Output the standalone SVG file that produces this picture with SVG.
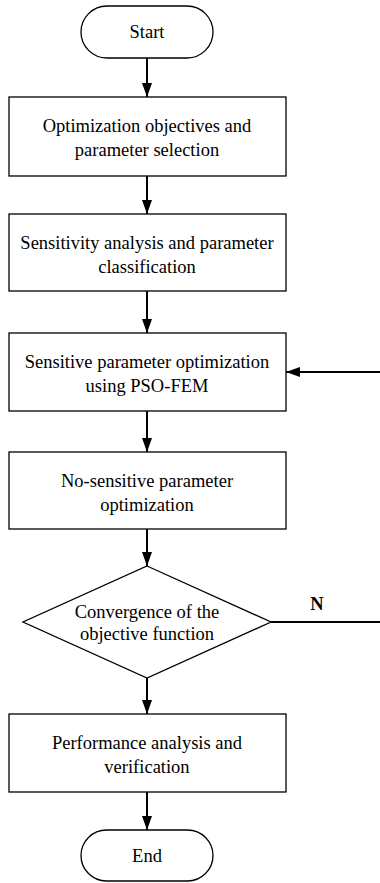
<svg xmlns="http://www.w3.org/2000/svg" width="380" height="883" viewBox="0 0 380 883">
  <style>
    .shape { fill: #ffffff; stroke: #000000; stroke-width: 1.3; }
    .label { font-family: "Liberation Serif", "Times New Roman", serif; font-size: 18.5px; fill: #000000; text-anchor: middle; }
    .link { fill: none; stroke: #000000; stroke-width: 2; }
  </style>
  <defs>
    <marker id="arrow" viewBox="0 0 14 10" refX="14" refY="5" markerWidth="14" markerHeight="10" markerUnits="userSpaceOnUse" orient="auto">
      <path d="M0,0 L14,5 L0,10 Z" fill="#000000"/>
    </marker>
  </defs>
  <rect width="380" height="883" fill="#ffffff"/>

  <g id="connectors">
    <line class="link" x1="147" y1="58" x2="147" y2="97" marker-end="url(#arrow)"/>
    <line class="link" x1="147" y1="176" x2="147" y2="214" marker-end="url(#arrow)"/>
    <line class="link" x1="147" y1="291" x2="147" y2="333" marker-end="url(#arrow)"/>
    <line class="link" x1="147" y1="411" x2="147" y2="452" marker-end="url(#arrow)"/>
    <line class="link" x1="147" y1="529" x2="147" y2="566" marker-end="url(#arrow)"/>
    <line class="link" x1="147" y1="678" x2="147" y2="714" marker-end="url(#arrow)"/>
    <line class="link" x1="147" y1="792" x2="147" y2="830" marker-end="url(#arrow)"/>
    <line class="link" x1="271" y1="622" x2="380" y2="622"/>
    <line class="link" x1="380" y1="372" x2="286" y2="372" marker-end="url(#arrow)"/>
    <text class="label" x="317" y="610" font-weight="bold" font-size="17">N</text>
  </g>

  <g id="start">
    <rect class="shape" x="81" y="6" width="132" height="52" rx="26" ry="26"/>
    <text class="label" x="147" y="38">Start</text>
  </g>

  <g id="objectives">
    <rect class="shape" x="9" y="97" width="277" height="79"/>
    <text class="label" x="147" y="132">Optimization objectives and</text>
    <text class="label" x="147" y="156">parameter selection</text>
  </g>

  <g id="sensitivity">
    <rect class="shape" x="9" y="214" width="277" height="77"/>
    <text class="label" x="147" y="249">Sensitivity analysis and parameter</text>
    <text class="label" x="147" y="273">classification</text>
  </g>

  <g id="pso-fem">
    <rect class="shape" x="9" y="333" width="277" height="78"/>
    <text class="label" x="147" y="368">Sensitive parameter optimization</text>
    <text class="label" x="147" y="392">using PSO-FEM</text>
  </g>

  <g id="non-sensitive">
    <rect class="shape" x="9" y="452" width="277" height="77"/>
    <text class="label" x="147" y="487">No-sensitive parameter</text>
    <text class="label" x="147" y="511">optimization</text>
  </g>

  <g id="convergence">
    <polygon class="shape" points="147,566 271,622 147,678 23,622"/>
    <text class="label" x="147" y="618">Convergence of the</text>
    <text class="label" x="147" y="640">objective function</text>
  </g>

  <g id="performance">
    <rect class="shape" x="9" y="714" width="277" height="78"/>
    <text class="label" x="147" y="749">Performance analysis and</text>
    <text class="label" x="147" y="773">verification</text>
  </g>

  <g id="end">
    <rect class="shape" x="81" y="830" width="132" height="51" rx="25.5" ry="25.5"/>
    <text class="label" x="147" y="862">End</text>
  </g>
</svg>
